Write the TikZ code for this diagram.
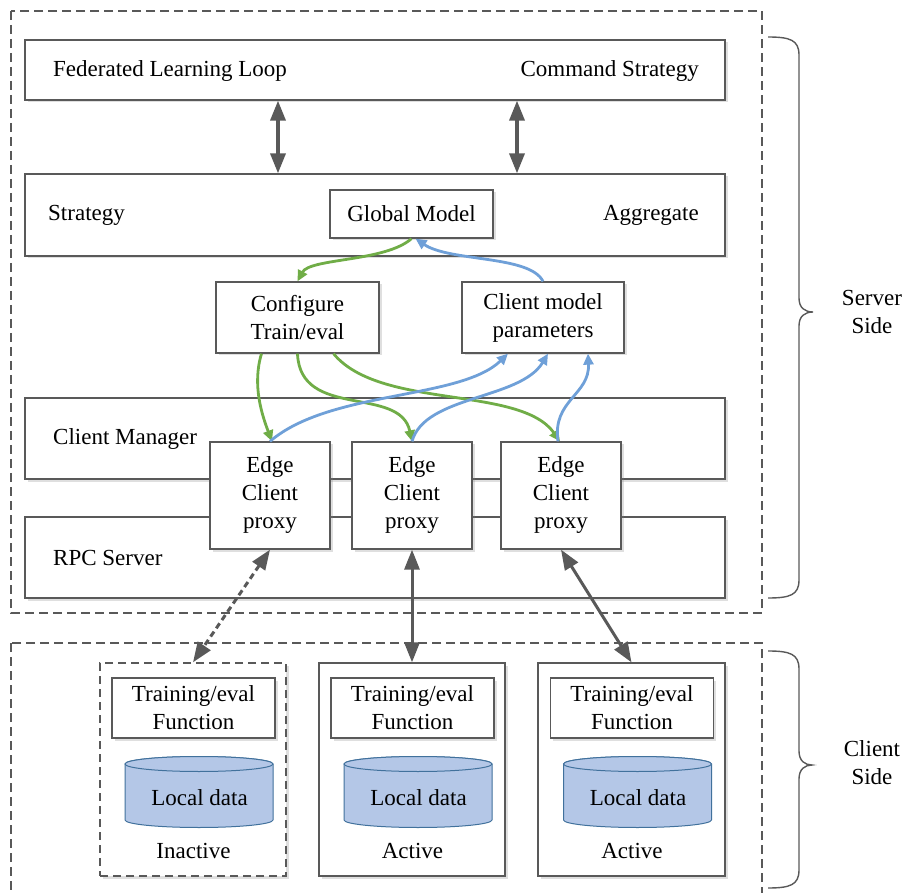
\documentclass[tikz,border=0pt]{standalone}
\usepackage{fontspec}
\setmainfont{Liberation Serif}
\usetikzlibrary{arrows.meta,shadows}
\definecolor{edgegray}{HTML}{595959}
\definecolor{flowgreen}{HTML}{70AD47}
\definecolor{flowblue}{HTML}{6FA0D8}
\definecolor{datafill}{HTML}{B4C7E7}
\definecolor{dataline}{HTML}{41719C}

\tikzset{
  lbl/.style={font=\fontsize{23}{28}\selectfont, inner sep=0pt, align=center},
  panel/.style={draw=edgegray, line width=1.3pt, fill=white, inner sep=0pt,
    drop shadow={shadow xshift=2.5pt, shadow yshift=-2.5pt, opacity=0.25}},
  group/.style={draw=edgegray, line width=1.4pt, dash pattern=on 9pt off 5pt},
  clientbox/.style={panel},
  inactivebox/.style={panel, dash pattern=on 8pt off 5pt},
  biarrow/.style={draw=edgegray, line width=3.5pt,
    {Triangle[length=20pt,width=15pt]}-{Triangle[length=20pt,width=15pt]}},
  greenflow/.style={draw=flowgreen, line width=2.8pt, -{Triangle[length=11pt,width=10pt]}},
  blueflow/.style={draw=flowblue, line width=2.8pt, -{Triangle[length=11pt,width=10pt]}},
  brace/.style={draw=edgegray, line width=1.4pt},
  cyl/.style={fill=datafill, draw=dataline, line width=1pt},
}

\begin{document}
\begin{tikzpicture}[x=1pt, y=-1pt]
\useasboundingbox (0,0) rectangle (903,893);
\clip (0,0) rectangle (903,893);

% ---------- server side ----------
\draw[group] (11,11) rectangle (762,613);

\node[panel, minimum width=700pt, minimum height=60pt] (fl) at (375,70) {};
\node[lbl, anchor=west] (fltxt) at (53,71) {Federated Learning Loop};
\node[lbl, anchor=east] (cmdtxt) at (699,71) {Command Strategy};

\node[panel, minimum width=700pt, minimum height=82pt] (st) at (375,215) {};
\node[lbl, anchor=west] (sttxt) at (48,215) {Strategy};
\node[lbl, anchor=east] (aggtxt) at (699,215) {Aggregate};
\node[panel, lbl, minimum width=163pt, minimum height=48pt] (gm) at (411.5,214) {Global Model};

\node[panel, lbl, minimum width=163pt, minimum height=71pt] (cfg) at (297.5,317.5) {Configure\\Train/eval};
\node[panel, lbl, minimum width=162pt, minimum height=71pt] (cmp) at (543,317.5) {Client model\\parameters};

\node[panel, minimum width=700pt, minimum height=81pt] (cm) at (375,438.5) {};
\node[lbl, anchor=west] (cmtxt) at (53,439) {Client Manager};
\node[panel, minimum width=700pt, minimum height=81pt] (rpc) at (375,557.5) {};
\node[lbl, anchor=west] (rpctxt) at (53,558) {RPC Server};

\node[panel, lbl, minimum width=120pt, minimum height=107pt] (e1) at (270,495.5) {Edge\\Client\\proxy};
\node[panel, lbl, minimum width=120pt, minimum height=107pt] (e2) at (412,495.5) {Edge\\Client\\proxy};
\node[panel, lbl, minimum width=120pt, minimum height=107pt] (e3) at (561,495.5) {Edge\\Client\\proxy};

% links between the loop and the strategy
\draw[biarrow] ([xshift=-97pt]fl.south) -- ([xshift=-97pt]st.north);
\draw[biarrow] ([xshift=142pt]fl.south) -- ([xshift=142pt]st.north);

% global model <-> configure / client parameters
\draw[greenflow] (gm.south) .. controls (385,262) and (310,258) .. (cfg.north);
\draw[blueflow] (cmp.north) .. controls (530,255) and (450,262) .. ([xshift=4pt]gm.south);

% configure -> proxies
\draw[greenflow] ([xshift=-36pt]cfg.south) .. controls (252,385) and (262,415) .. ([xshift=2pt]e1.north);
\draw[greenflow] (cfg.south) .. controls (300,420) and (400,385) .. (e2.north);
\draw[greenflow] ([xshift=36pt]cfg.south) .. controls (380,410) and (520,385) .. ([xshift=-1pt]e3.north);

% proxies -> client model parameters
\draw[blueflow] (e1.north) .. controls (330,390) and (460,400) .. ([xshift=-35pt]cmp.south);
\draw[blueflow] (e2.north) .. controls (425,395) and (520,400) .. ([xshift=5pt]cmp.south);
\draw[blueflow] ([xshift=-3pt]e3.north) .. controls (552,400) and (590,395) .. ([xshift=45pt]cmp.south);

% server brace
\draw[brace] (768,37) .. controls (790,37) and (799,40) .. (799,55) -- (799,298)
  .. controls (799,308) and (805,312) .. (813,312)
  .. controls (805,312) and (799,316) .. (799,326) -- (799,580)
  .. controls (799,595) and (790,598) .. (768,598);
\node[lbl] (srvside) at (872,312) {Server\\Side};

% ---------- client side ----------
\draw[group] (11,643) rectangle (762,898);

\node[inactivebox, minimum width=186pt, minimum height=213pt] (cb1) at (193,769.5) {};
\node[clientbox, minimum width=186pt, minimum height=213pt] (cb2) at (412,769.5) {};
\node[clientbox, minimum width=187pt, minimum height=213pt] (cb3) at (631.5,769.5) {};

\node[panel, lbl, minimum width=163pt, minimum height=60pt] (tf1) at (193.5,708) {Training/eval\\Function};
\node[panel, lbl, minimum width=163pt, minimum height=60pt] (tf2) at (412.5,708) {Training/eval\\Function};
\node[panel, lbl, minimum width=163pt, minimum height=60pt] (tf3) at (632,708) {Training/eval\\Function};

% local data stores
\foreach \cx in {199,418,637.5}{
  \draw[cyl] (\cx-74,764) -- (\cx-74,820)
    arc[start angle=180, end angle=0, x radius=74, y radius=7.5]
    -- (\cx+74,764)
    arc[start angle=0, end angle=-180, x radius=74, y radius=7.5] -- cycle;
  \draw[cyl] (\cx,764) ellipse [x radius=74, y radius=7.5];
}
\node[lbl] (ld1) at (199.5,798) {Local data};
\node[lbl] (ld2) at (418.5,798) {Local data};
\node[lbl] (ld3) at (638,798) {Local data};

\node[lbl] (st1) at (193.5,851) {Inactive};
\node[lbl] (st2) at (412.5,851) {Active};
\node[lbl] (st3) at (632,851) {Active};

% proxy <-> client links
\draw[biarrow, line width=3pt, dash pattern=on 6pt off 4pt] (e1.south) -- (cb1.north);
\draw[biarrow, line width=3pt] (e2.south) -- (cb2.north);
\draw[biarrow, line width=3pt] (e3.south) -- (cb3.north);

% client brace
\draw[brace] (768,651) .. controls (790,651) and (799,654) .. (799,669) -- (799,751)
  .. controls (799,761) and (805,765) .. (812,765)
  .. controls (805,765) and (799,769) .. (799,779) -- (799,870)
  .. controls (799,885) and (790,888) .. (768,888);
\node[lbl] (cliside) at (872,763) {Client\\Side};
\end{tikzpicture}
\end{document}
